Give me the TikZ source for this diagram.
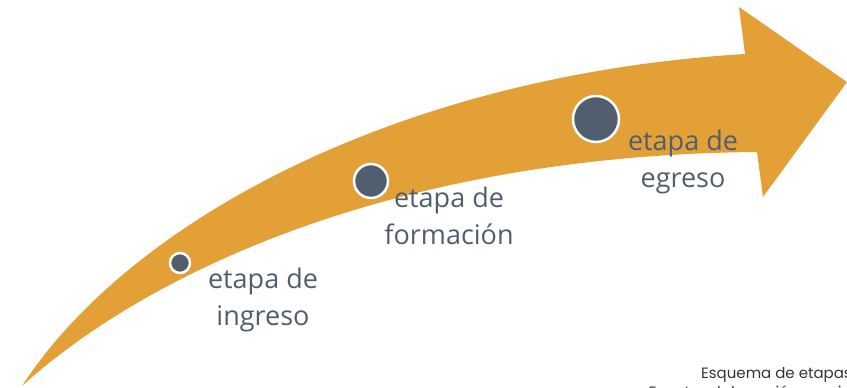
\documentclass[tikz,border=0pt]{standalone}
\usepackage{fontspec}
\setmainfont{Open Sans}
\newfontfamily\captionfont{Poppins}
\definecolor{arrowor}{RGB}{227,160,54}
\definecolor{slate}{RGB}{80,94,109}
\begin{document}
\begin{tikzpicture}[x=1pt,y=-1pt,
  dot/.style={circle,fill=slate,draw=white,line width=2.5pt,inner sep=0pt},
  lbl/.style={text=slate,font=\fontsize{27}{37}\selectfont,align=center,inner sep=0pt},
  captext/.style={text=black!80,font=\captionfont\fontsize{15}{19}\selectfont,align=right,inner sep=0pt,anchor=base east}]
\useasboundingbox (0,0) rectangle (847,388);
\clip (0,0) rectangle (847,388);
\fill[arrowor] (22,386) .. controls (130,220) and (400,75) .. (745,54)
  -- (739,7) -- (847,82) -- (763,197) -- (757,152)
  .. controls (400,155) and (150,270) .. (22,386) -- cycle;
\node[dot,minimum size=20pt] (d1) at (180,263) {};
\node[dot,minimum size=34pt] (d2) at (371,181) {};
\node[dot,minimum size=46pt] (d3) at (596,119) {};
\node[lbl] (l1) at (263,300) {etapa de\\ingreso};
\node[lbl] (l2) at (449,216) {etapa de\\formación};
\node[lbl] (l3) at (683,162) {etapa de\\egreso};
\node[captext] (c1) at (852,397) {Esquema de etapas\\Fuente: elaboración propia};
\end{tikzpicture}
\end{document}
